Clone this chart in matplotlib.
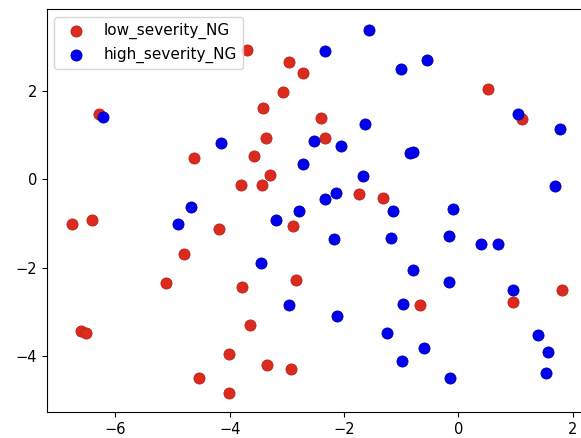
import matplotlib
matplotlib.use("Agg")
import matplotlib.pyplot as plt

# low severity points
low_x = [-3.70, -2.96, -2.72, -3.06, -3.41, -6.28, -3.37, -4.62, -3.58, -3.80,
         -3.44, -3.30, -2.40, -2.33, 0.51, 1.12, -1.73, -1.32, -6.76, -6.41,
         -4.18, -2.90, -4.80, -5.12, -3.78, -2.84, -3.64, -6.60, -6.52, -4.01,
         -3.35, -2.92, -4.53, -4.01, -0.67, 0.96, 1.81]
low_y = [2.92, 2.66, 2.41, 1.97, 1.62, 1.48, 0.93, 0.49, 0.53, -0.13,
         -0.13, 0.10, 1.38, 0.93, 2.04, 1.37, -0.32, -0.42, -1.00, -0.92,
         -1.12, -1.05, -1.69, -2.35, -2.44, -2.28, -3.30, -3.43, -3.47, -3.94,
         -4.20, -4.28, -4.50, -4.84, -2.85, -2.78, -2.50]

# high severity points
high_x = [-6.22, -4.15, -4.68, -1.56, -2.33, -1.01, -0.54, -1.63, -2.52, -2.05,
          -2.72, -0.84, -0.79, 1.04, 1.77, 1.69, -1.66, -2.14, -2.33, -2.78,
          -1.15, -0.09, -4.91, -3.19, -3.45, -2.96, -2.18, -1.18, -0.17, 0.39,
          0.70, -0.79, -0.17, 0.95, -0.97, -2.12, -1.25, -0.60, -0.99, -0.15,
          1.40, 1.56, 1.53]
high_y = [1.42, 0.83, -0.62, 3.38, 2.91, 2.49, 2.71, 1.25, 0.88, 0.76,
          0.34, 0.59, 0.62, 1.48, 1.15, -0.14, 0.07, -0.30, -0.45, -0.72,
          -0.72, -0.68, -1.00, -0.92, -1.89, -2.85, -1.35, -1.32, -1.28, -1.47,
          -1.47, -2.04, -2.33, -2.50, -2.81, -3.10, -3.47, -3.81, -4.11, -4.50,
          -3.52, -3.91, -4.38]

fig = plt.figure(figsize=(5.81, 4.38), dpi=100)
ax = fig.add_axes([0.0804, 0.0587, 0.925, 0.920])

ax.scatter(low_x, low_y, s=64, c='#dc2b1e', edgecolors='#b82418', linewidths=0.6,
           label='low_severity_NG')
ax.scatter(high_x, high_y, s=64, c='#0000ee', edgecolors='#0000b0', linewidths=0.6,
           label='high_severity_NG')

ax.set_xlim(-7.2, 2.2)
ax.set_ylim(-5.27, 3.85)
ax.set_xticks([-6, -4, -2, 0, 2])
ax.set_yticks([-4, -2, 0, 2])
ax.tick_params(labelsize=10.5)

ax.legend(loc='upper left', fontsize=11)

fig.savefig("out.png", dpi=100)
